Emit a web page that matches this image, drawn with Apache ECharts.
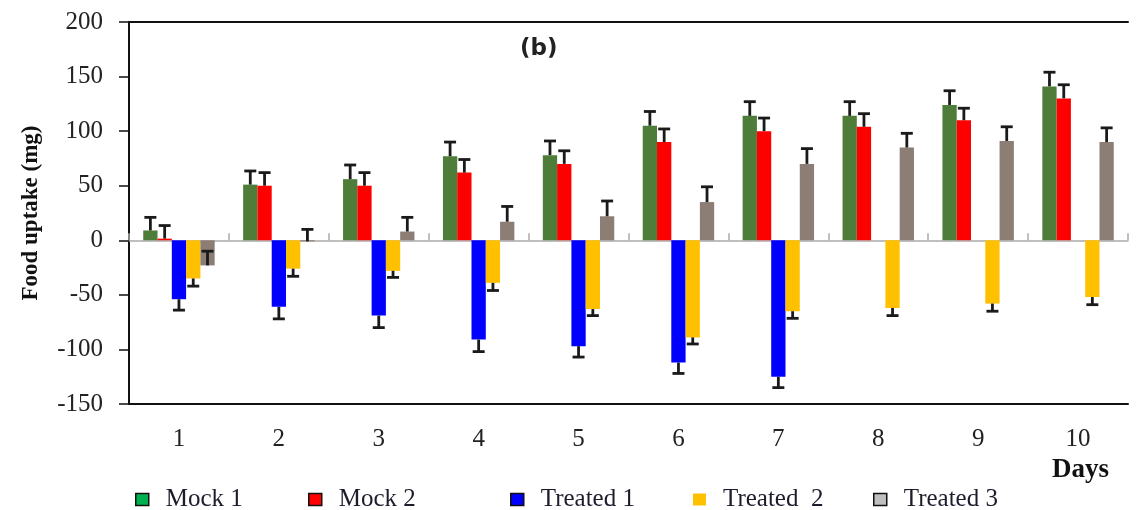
<!DOCTYPE html>
<html>
<head>
<meta charset="utf-8">
<script src="https://cdn.jsdelivr.net/npm/echarts@6/dist/echarts.min.js"></script>
<style>
  html, body { margin: 0; padding: 0; background: #fff; }
  #chart { width: 1140px; height: 510px; }
</style>
</head>
<body>
<div id="chart"></div>
<script>
// values (mg)
var days = ['1', '2', '3', '4', '5', '6', '7', '8', '9', '10'];
var mock1 = [9, 51, 56, 77, 78, 105, 114, 114, 124, 141];
var mock1Err = [12, 12.5, 13, 13, 13, 13, 13, 13, 13, 13];
var mock2 = [1.5, 50, 50, 62, 70, 90, 100, 104, 110, 130];
var mock2Err = [12, 12, 12, 12, 12, 12, 12, 12, 11, 12.5];
var treated1 = [-54, -61, -69, -91, -97, -112, -125, null, null, null];
var treated1Err = [10, 11, 11, 11, 10, 10, 10, null, null, null];
var treated2 = [-35, -26, -28, -39, -63, -89, -65, -62, -58, -52];
var treated2Err = [7, 7, 6, 7, 6, 6, 6.5, 7, 7, 7];
var treated3 = [-23, -1, 8, 17, 22, 35, 70, 85, 91, 90];
var treated3Err = [13, 11, 13, 14, 14, 14, 14, 13, 13, 13];

var names = ['Mock 1', 'Mock 2', 'Treated 1', 'Treated 2', 'Treated 3'];
var values = [mock1, mock2, treated1, treated2, treated3];
var errors = [mock1Err, mock2Err, treated1Err, treated2Err, treated3Err];
var errDir = [1, 1, -1, -1, 1];
var barColors = ['#4e7d3a', '#ff0000', '#0000ff', '#ffc000', '#8c7d75'];
var iconColors = ['#00b050', '#ff0000', '#0000ff', '#ffc000', '#bfbfbf'];
var iconBorder = [1.5, 1.5, 1.5, 0, 1.5];
var legendLeft = [135, 308, 510, 693, 873];
var legendLabel = ['Mock 1', 'Mock 2', 'Treated 1', 'Treated  2', 'Treated 3'];

var catGap = 0.285;
var serif = '"Liberation Serif", "Times New Roman", serif';

var myChart = echarts.init(document.getElementById('chart'));

var series = [];
var errData = [];
for (var k = 0; k < names.length; k++) {
    series.push({
        name: names[k],
        type: 'bar',
        xAxisIndex: 0,
        barGap: '0%',
        barCategoryGap: (catGap * 100) + '%',
        itemStyle: { color: barColors[k] },
        data: values[k]
    });
    for (var i = 0; i < days.length; i++) {
        if (values[k][i] == null || errors[k][i] == null) continue;
        errData.push([i, values[k][i], errDir[k] * errors[k][i], k]);
    }
}

// error bars, drawn from the bar end in the direction of errDir
series.push({
    type: 'custom',
    xAxisIndex: 0,
    silent: true,
    z: 5,
    renderItem: function (params, api) {
        var ci = api.value(0), v = api.value(1), e = api.value(2), k = api.value(3);
        var band = api.size([1, 0])[0];
        var bw = band * (1 - catGap) / names.length;
        var xc = api.coord([ci, 0])[0] + (k - (names.length - 1) / 2) * bw;
        var y0 = api.coord([ci, v])[1];
        var y1 = api.coord([ci, v + e])[1];
        var st = { stroke: '#1a1a1a', lineWidth: 2.8 };
        return {
            type: 'group',
            children: [
                { type: 'line', shape: { x1: xc, y1: y0, x2: xc, y2: y1 }, style: st },
                { type: 'line', shape: { x1: xc - 6, y1: y1, x2: xc + 6, y2: y1 }, style: st }
            ]
        };
    },
    data: errData
});

var legends = [];
for (var k = 0; k < names.length; k++) {
    legends.push({
        left: legendLeft[k],
        top: 487,
        padding: 0,
        itemWidth: 13,
        itemHeight: 12,
        icon: 'rect',
        selectedMode: false,
        formatter: (function (lab) { return function () { return lab; }; })(legendLabel[k]),
        textStyle: { fontFamily: serif, fontSize: 25, color: '#1c1c2c', padding: [0, 0, 0, 12] },
        data: [{
            name: names[k],
            itemStyle: { color: iconColors[k], borderColor: '#111', borderWidth: iconBorder[k] }
        }]
    });
}

var option = {
    animation: false,
    backgroundColor: '#fff',
    title: [
        { text: '(b)', left: 520, top: 38, padding: 0,
          textStyle: { fontFamily: '"DejaVu Sans", sans-serif', fontWeight: 'bold', fontSize: 23, color: '#222' } },
        { text: 'Days', left: 1052, top: 457, padding: 0,
          textStyle: { fontFamily: serif, fontWeight: 'bold', fontSize: 27, color: '#111' } }
    ],
    legend: legends,
    grid: { left: 129, right: 12, top: 22, bottom: 106 },
    xAxis: [
        {
            type: 'category',
            data: days,
            position: 'bottom',
            axisLine: { onZero: false, lineStyle: { color: '#111', width: 2 } },
            axisTick: { show: false },
            axisLabel: { margin: 23, fontFamily: serif, fontSize: 25, color: '#222' }
        },
        {
            type: 'category',
            data: days,
            position: 'top',
            axisLine: { onZero: true, lineStyle: { color: '#aaa', width: 1.5 } },
            axisTick: { show: true, inside: false, length: 7, lineStyle: { color: '#aaa', width: 1.5 } },
            axisLabel: { show: false }
        },
        {
            type: 'category',
            data: days,
            position: 'top',
            axisLine: { onZero: false, lineStyle: { color: '#111', width: 2 } },
            axisTick: { show: false },
            axisLabel: { show: false }
        }
    ],
    yAxis: {
        type: 'value',
        min: -150,
        max: 200,
        interval: 50,
        name: 'Food uptake (mg)',
        nameLocation: 'middle',
        nameGap: 86,
        nameTextStyle: { fontFamily: serif, fontWeight: 'bold', fontSize: 23, color: '#111' },
        axisLine: { show: true, lineStyle: { color: '#111', width: 2 } },
        axisTick: { show: true, length: 10, lineStyle: { color: '#111', width: 1.5 } },
        axisLabel: { margin: 26, fontFamily: serif, fontSize: 25, color: '#222' },
        splitLine: { show: false }
    },
    series: series
};
myChart.setOption(option);
</script>
</body>
</html>
